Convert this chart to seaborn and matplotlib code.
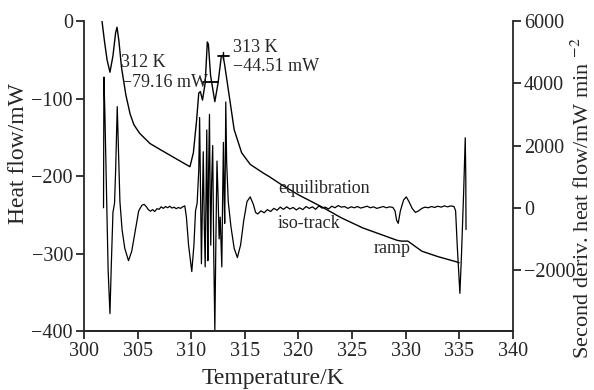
import numpy as np
import pandas as pd
import seaborn as sns
import matplotlib
matplotlib.use('Agg')
import matplotlib.pyplot as plt

# heat flow curve (left axis)
hf_temp = [301.68, 301.9, 302.15, 302.42, 302.7, 302.95, 303.08, 303.25, 303.5, 303.9,
           304.3, 304.66, 305.2, 306.15, 307.0, 308.0, 309.0, 309.88, 310.2, 310.5,
           310.7, 310.85, 311.05, 311.3, 311.5, 311.6, 311.8, 312.2, 312.5, 312.8,
           312.95, 313.1, 313.6, 314.0, 314.7, 315.5, 316.7, 317.3, 318.5, 320.1,
           322.2, 324.0, 326.0, 328.0, 329.2, 329.6, 330.2, 330.8, 331.5, 333.0,
           334.8, 334.97]
hf_val = [0, -25, -50, -66, -45, -15, -8, -25, -60, -95,
          -120, -134, -145, -158, -165, -173, -181, -188, -170, -128,
          -93, -91, -102, -80, -27, -30, -70, -104, -80, -46,
          -44, -55, -102, -140, -170, -185, -196, -201, -212, -225,
          -240, -254, -267, -277, -283, -284, -284, -290, -297, -304,
          -311, -312]

# second derivative curve (right axis)
d2_temp = [301.82, 301.84, 301.86, 301.95, 302.1, 302.25, 302.42, 302.55, 302.7, 302.85,
           302.95, 303.1, 303.2, 303.35, 303.55, 303.8, 304.15, 304.45, 304.8, 305.1,
           305.4, 305.6, 305.8, 306.0, 306.2, 306.4, 306.6, 306.8, 307.0, 307.2,
           307.4, 307.6, 307.8, 308.0, 308.2, 308.4, 308.6, 308.8, 309.0, 309.2,
           309.4, 309.55, 309.75, 310.05, 310.25, 310.4, 310.55, 310.7, 310.78, 310.88,
           310.95, 311.05, 311.12, 311.22, 311.3, 311.38, 311.45, 311.5, 311.55, 311.62,
           311.7, 311.76, 311.82, 311.9, 312.0, 312.1, 312.2, 312.3, 312.4, 312.5,
           312.6, 312.7, 312.85, 312.93, 313.0, 313.07, 313.12, 313.18, 313.22, 313.3,
           313.45, 313.7, 314.0, 314.3, 314.6, 314.9, 315.2, 315.5, 315.8, 316.0,
           316.2, 316.5, 316.8, 317.1, 317.4, 317.7, 318.0, 318.3, 318.6, 318.9,
           319.2, 319.5, 319.8, 320.1, 320.4, 320.7, 321.0, 321.3, 321.6, 321.9,
           322.2, 322.5, 322.8, 323.1, 323.4, 323.7, 324.0, 324.3, 324.6, 324.9,
           325.2, 325.5, 325.8, 326.1, 326.4, 326.7, 327.0, 327.3, 327.6, 327.9,
           328.2, 328.5, 328.8, 329.0, 329.15, 329.3, 329.5, 329.8, 330.05, 330.3,
           330.6, 330.9, 331.2, 331.5, 331.8, 332.1, 332.4, 332.7, 333.0, 333.3,
           333.6, 333.9, 334.2, 334.5, 334.65, 334.8, 335.05, 335.2, 335.4, 335.55,
           335.6, 335.62]
d2_val = [0, 2000, 4200, 3000, 500, -2000, -3400, -1800, -150, 150,
          1200, 3250, 2000, 200, -700, -1300, -1700, -1400, -700, -100,
          80, 110, 40, -60, -110, -60, -120, -30, -50, 30,
          -20, 40, 0, 50, -10, 20, -30, 10, -20, 30,
          60, -300, -1200, -2050, -1200, -100, 150, 1200, 2900, 0,
          -1800, 200, 1800, -600, -1900, 400, 2500, 0, -1700, 1200,
          3000, 500, -1200, 800, 2000, -1500, -3950, -1000, 1500, 400,
          -1000, -300, -1900, 400, 2100, 300, -500, 1500, 3400, 1500,
          200, -600, -1300, -1600, -1200, -400, 200, 350, 100, -150,
          -200, -100, -160, -60, -120, -20, -80, 20, -50, 30,
          -40, 10, -70, 0, -60, 40, -20, 30, -50, 60,
          -10, 20, -40, 50, 0, 70, 20, 40, -20, 30,
          0, 40, -10, 20, 50, 0, 30, -20, 10, 40,
          0, 30, 10, -100, -400, -500, -100, 250, 350, 200,
          -20, -150, -100, -20, 20, 0, 40, 10, 50, 20,
          60, 30, 60, 40, -100, -1200, -2750, -1500, 500, 2250,
          1000, -700]

sns.set_style("ticks")
plt.rcParams['font.family'] = ['Liberation Serif', 'DejaVu Serif']
plt.rcParams['mathtext.fontset'] = 'stix'

fig = plt.figure(figsize=(5.94, 3.9), dpi=100)
ax = fig.add_axes([0.1414, 0.1513, 0.7222, 0.7947])
ax2 = ax.twinx()

hf = pd.DataFrame({'T': hf_temp, 'HF': hf_val})
d2 = pd.DataFrame({'T': d2_temp, 'D2': d2_val})
sns.lineplot(data=hf, x='T', y='HF', ax=ax, color='black', lw=1.0, sort=False, estimator=None)
sns.lineplot(data=d2, x='T', y='D2', ax=ax2, color='black', lw=0.9, sort=False, estimator=None)

ax.set_xlim(300, 340)
ax.set_ylim(-400, 0)
ax2.set_ylim(-3960, 6000)
ax.set_xticks(range(300, 341, 5))
ax.set_yticks(range(-400, 1, 100))
ax2.set_yticks([-2000, 0, 2000, 4000, 6000])

for a in (ax, ax2):
    a.spines['top'].set_visible(False)
    for s in a.spines.values():
        s.set_linewidth(1.3)
    a.tick_params(direction='out', length=6, width=1.3, labelsize=14.5, pad=2)
ax2.spines['left'].set_visible(False)
ax.spines['right'].set_visible(False)

ax.set_xlabel('Temperature/K', fontsize=17)
ax.set_ylabel('Heat flow/mW', fontsize=17)
ax2.set_ylabel('Second deriv. heat flow/mW min $^{-2}$', fontsize=16)
ax.xaxis.set_label_coords(0.44, -0.12)
ax.yaxis.set_label_coords(-0.128, 0.574)
ax2.yaxis.set_label_coords(1.136, 0.43)

# peak markers and annotations
ax.plot([311.1, 312.5], [-79.16, -79.16], color='black', lw=1.3)
ax.plot([312.5, 313.5], [-44.51, -44.51], color='black', lw=1.3)
ax.plot([313.0, 313.0], [-40, -49], color='black', lw=1.0)
ax.text(303.45, -53, '312 K', fontsize=13, va='center', ha='left')
ax.text(303.55, -79, '\u221279.16 mW', fontsize=13, va='center', ha='left')
ax.text(313.9, -33.5, '313 K', fontsize=13, va='center', ha='left')
ax.text(313.9, -59, '\u221244.51 mW', fontsize=13, va='center', ha='left')
ax.text(318.1, -215.5, 'equilibration', fontsize=13, va='center', ha='left')
ax.text(318.1, -261, 'iso-track', fontsize=13, va='center', ha='left')
ax.text(327.0, -294, 'ramp', fontsize=13, va='center', ha='left')

fig.savefig('out.png', dpi=100)
